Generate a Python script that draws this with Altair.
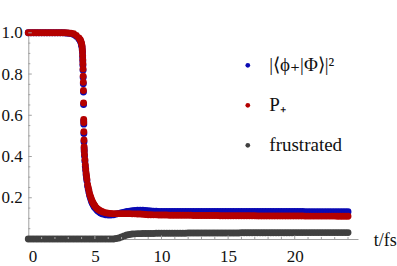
import altair as alt
import pandas as pd

# ---- data ----
# coarse sample times 0.0 .. 24.0, step 0.2 fs
T = [round(0.2 * i, 1) for i in range(121)]

RED = [
    1.0, 1.0, 1.0, 1.0, 1.0, 1.0, 1.0, 1.0, 1.0, 1.0,            # 0.0-1.8
    1.0, 1.0, 1.0, 1.0, 1.0, 0.999, 0.998, 0.995, 0.987, 0.975,  # 2.0-3.8
    0.948, 0.43, 0.29, 0.22, 0.183, 0.16, 0.146, 0.137, 0.131, 0.127,  # 4.0-5.8
    0.125, 0.124, 0.123, 0.123, 0.123, 0.123, 0.123, 0.123, 0.123, 0.122,  # 6.0-7.8
    0.122, 0.121, 0.121, 0.12, 0.119, 0.118, 0.118, 0.117, 0.117, 0.116,  # 8.0-9.8
    0.116, 0.116, 0.116, 0.115, 0.115, 0.115, 0.115, 0.115, 0.115, 0.115,  # 10.0-11.8
    0.115, 0.115, 0.114, 0.114, 0.114, 0.114, 0.114, 0.114, 0.114, 0.114,  # 12.0-13.8
    0.114, 0.114, 0.113, 0.113, 0.113, 0.113, 0.113, 0.113, 0.113, 0.113,  # 14.0-15.8
    0.113, 0.113, 0.113, 0.113, 0.113, 0.113, 0.112, 0.112, 0.112, 0.112,  # 16.0-17.8
    0.112, 0.112, 0.112, 0.112, 0.112, 0.112, 0.112, 0.112, 0.112, 0.112,  # 18.0-19.8
    0.112, 0.112, 0.112, 0.112, 0.111, 0.111, 0.111, 0.111, 0.111, 0.111,  # 20.0-21.8
    0.111, 0.111, 0.111, 0.111, 0.111, 0.111, 0.110, 0.110, 0.110, 0.110,  # 22.0-23.8
    0.110,                                                        # 24.0
]

BLUE = [
    1.0, 1.0, 1.0, 1.0, 1.0, 1.0, 1.0, 1.0, 1.0, 1.0,
    1.0, 1.0, 1.0, 1.0, 0.999, 0.998, 0.996, 0.992, 0.983, 0.97,
    0.94, 0.424, 0.283, 0.212, 0.175, 0.152, 0.137, 0.127, 0.121, 0.117,
    0.116, 0.116, 0.118, 0.121, 0.124, 0.127, 0.130, 0.133, 0.135, 0.137,
    0.138, 0.139, 0.139, 0.139, 0.138, 0.137, 0.136, 0.135, 0.135, 0.134,
    0.134, 0.134, 0.134, 0.134, 0.134, 0.134, 0.134, 0.134, 0.134, 0.134,
    0.134, 0.134, 0.134, 0.134, 0.134, 0.134, 0.134, 0.134, 0.134, 0.134,
    0.134, 0.134, 0.134, 0.134, 0.133, 0.133, 0.133, 0.133, 0.133, 0.133,
    0.133, 0.133, 0.133, 0.133, 0.133, 0.133, 0.133, 0.133, 0.133, 0.133,
    0.133, 0.133, 0.133, 0.133, 0.133, 0.133, 0.133, 0.133, 0.133, 0.133,
    0.133, 0.133, 0.133, 0.133, 0.132, 0.132, 0.132, 0.132, 0.132, 0.132,
    0.132, 0.132, 0.132, 0.132, 0.132, 0.132, 0.132, 0.132, 0.132, 0.132,
    0.132,
]

GRAY = [
    0.0, 0.0, 0.0, 0.0, 0.0, 0.0, 0.0, 0.0, 0.0, 0.0,
    0.0, 0.0, 0.0, 0.0, 0.0, 0.0, 0.0, 0.0, 0.0, 0.0,
    0.0, 0.0, 0.0, 0.0, 0.0, 0.0, 0.0, 0.0, 0.0, 0.0,
    0.0, 0.0, 0.0, 0.002, 0.005, 0.010, 0.015, 0.019, 0.022, 0.024,
    0.025, 0.026, 0.026, 0.027, 0.027, 0.027, 0.027, 0.027, 0.028, 0.028,
    0.028, 0.028, 0.028, 0.028, 0.028, 0.028, 0.028, 0.028, 0.028, 0.028,
    0.029, 0.029, 0.029, 0.029, 0.029, 0.029, 0.029, 0.029, 0.029, 0.029,
    0.029, 0.029, 0.029, 0.029, 0.029, 0.029, 0.029, 0.029, 0.029, 0.029,
    0.030, 0.030, 0.030, 0.030, 0.030, 0.030, 0.030, 0.030, 0.030, 0.030,
    0.030, 0.030, 0.030, 0.030, 0.030, 0.030, 0.030, 0.030, 0.030, 0.030,
    0.031, 0.031, 0.031, 0.031, 0.031, 0.031, 0.031, 0.031, 0.031, 0.031,
    0.031, 0.031, 0.031, 0.031, 0.031, 0.031, 0.031, 0.031, 0.031, 0.031,
    0.031,
]

# extra, denser samples through the steep drop
T_DROP = [3.9, 3.95, 4.03, 4.05, 4.07, 4.08, 4.09, 4.10, 4.11, 4.12,
          4.13, 4.14, 4.15, 4.16, 4.165, 4.17, 4.18, 4.19, 4.22, 4.25,
          4.28, 4.31, 4.34, 4.37, 4.45, 4.5, 4.55, 4.65, 4.7, 4.75,
          4.85, 4.9, 4.95, 5.1, 5.3, 5.5]
RED_DROP = [0.966, 0.958, 0.938, 0.925, 0.91, 0.89, 0.87, 0.85, 0.825, 0.79,
            0.76, 0.72, 0.66, 0.58, 0.565, 0.52, 0.48, 0.447, 0.41, 0.385,
            0.36, 0.34, 0.32, 0.305, 0.265, 0.25, 0.235, 0.21, 0.2, 0.19,
            0.176, 0.17, 0.165, 0.152, 0.141, 0.134]
BLUE_DROP = [0.962, 0.953, 0.932, 0.918, 0.903, 0.883, 0.863, 0.843, 0.818, 0.783,
             0.753, 0.713, 0.652, 0.572, 0.557, 0.512, 0.472, 0.439, 0.403, 0.377,
             0.352, 0.332, 0.312, 0.297, 0.257, 0.242, 0.227, 0.202, 0.192, 0.182,
             0.168, 0.162, 0.157, 0.144, 0.132, 0.124]

SERIES = ["|⟨ϕ₊|Φ⟩|²", "P₊", "frustrated"]
COLORS = ["#0a0ab4", "#b40000", "#404040"]

X_TICKS = [0, 5, 10, 15, 20]
Y_TICKS = [0.2, 0.4, 0.6, 0.8, 1.0]
X_MINOR = [v for v in range(1, 25) if v % 5 != 0]
Y_MINOR = [round(0.05 * i, 2) for i in range(1, 20) if i % 4 != 0]
Y_MAJOR = [0.2, 0.4, 0.6, 0.8]

# ---- build table ----
rows = []
for t, v in list(zip(T, BLUE)) + list(zip(T_DROP, BLUE_DROP)):
    rows.append({"t": t, "y": v, "s": SERIES[0]})
for t, v in list(zip(T, RED)) + list(zip(T_DROP, RED_DROP)):
    rows.append({"t": t, "y": v, "s": SERIES[1]})
for t, v in zip(T, GRAY):
    rows.append({"t": t, "y": v, "s": SERIES[2]})
df = pd.DataFrame(rows)

W, H = 329.7, 206.2
FONT = "Liberation Serif"
AX = "#a0a0a0"

xs = alt.Scale(domain=[0, 24.75], nice=False, zero=False)
ys = alt.Scale(domain=[0, 1.0], nice=False, zero=False)

X_AXIS = alt.Axis(
    values=X_TICKS, ticks=False, grid=False, domainColor=AX,
    labelFont=FONT, labelFontSize=17, labelColor="#111", labelPadding=9,
    title="t/fs", titleFont=FONT, titleFontSize=18, titleFontWeight="normal",
    titleColor="#111", titleX=345, titleY=1, titleAlign="left",
    titleBaseline="middle", titleAnchor="start")
Y_AXIS = alt.Axis(
    values=Y_TICKS, format=".1f", ticks=False, grid=False, domainColor=AX,
    labelFont=FONT, labelFontSize=17, labelColor="#111", labelPadding=6,
    title=None)

points = alt.Chart(df).mark_circle(size=48, opacity=1).encode(
    x=alt.X("t:Q", scale=xs, axis=X_AXIS),
    y=alt.Y("y:Q", scale=ys, axis=Y_AXIS),
    color=alt.Color("s:N", scale=alt.Scale(domain=SERIES, range=COLORS),
                    legend=alt.Legend(
                        orient="none", legendX=210, legendY=23, title=None,
                        labelFont=FONT, labelFontSize=19, labelColor="#111",
                        symbolType="circle", symbolSize=22, symbolStrokeWidth=0,
                        rowPadding=20, labelOffset=12, padding=0)),
)

def xtick(vals, length):
    d = pd.DataFrame({"t": vals})
    return alt.Chart(d).mark_rule(color=AX, strokeWidth=1).encode(
        x=alt.X("t:Q", scale=xs, axis=X_AXIS), y=alt.value(H), y2=alt.value(H - length))

def ytick(vals, length):
    d = pd.DataFrame({"y": vals})
    return alt.Chart(d).mark_rule(color=AX, strokeWidth=1).encode(
        y=alt.Y("y:Q", scale=ys, axis=Y_AXIS), x=alt.value(0), x2=alt.value(length))

chart = alt.layer(
    points,
    xtick(X_MINOR, 2), xtick(X_TICKS[1:], 3.5),
    ytick(Y_MINOR, 2), ytick(Y_MAJOR + [1.0], 3.5),
).properties(
    width=W, height=H, background="white",
    padding={"left": 28.3, "top": 32.8, "right": 397 - 28.3 - W, "bottom": 266 - 32.8 - H},
    autosize=alt.AutoSizeParams(type="none"),
).configure_view(stroke=None).configure_axis(
    labelFont=FONT, titleFont=FONT
).configure_legend(labelFont=FONT)

chart.save("out.html", embed_options={"renderer": "svg", "actions": False})
